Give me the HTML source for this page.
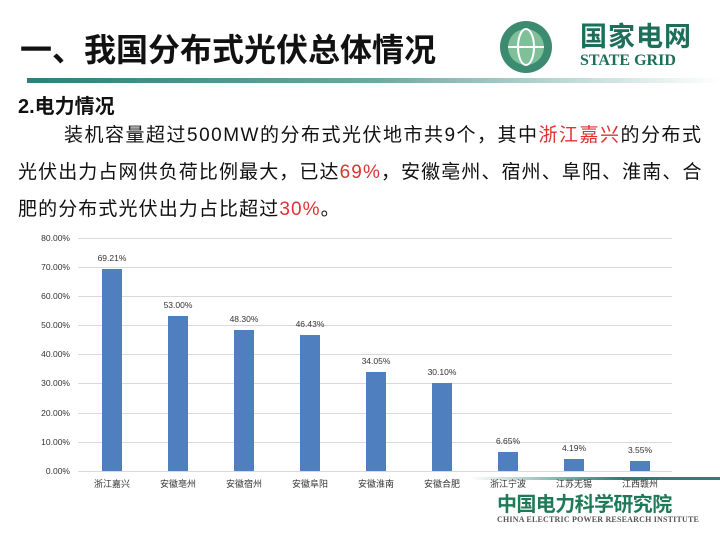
<!DOCTYPE html>
<html><head><meta charset="utf-8"><style>
body{margin:0;width:720px;height:540px;background:#fff;position:relative;overflow:hidden;font-family:"Liberation Sans","Noto Sans CJK SC",sans-serif;}
.a{position:absolute;white-space:nowrap;line-height:1}
.p{position:absolute;white-space:nowrap;font-size:19px;line-height:1;color:#111}
</style></head><body>
<div class="a" style="left:20px;top:34px;font-size:32px;font-weight:bold;color:#111">一、我国分布式光伏总体情况</div>
<div class="a" style="left:27px;top:78px;width:693px;height:5px;background:linear-gradient(to right,#2f7f78,#6aa9a0 50%,#fff)"></div>
<svg class="a" style="left:497px;top:18px" width="58" height="58"><circle cx="29" cy="29" r="26" fill="#3c8a6f"/><circle cx="29" cy="29" r="18" fill="#7fbf9a"/><ellipse cx="29" cy="29" rx="8" ry="18" fill="none" stroke="#fff" stroke-width="2"/><line x1="11" y1="29" x2="47" y2="29" stroke="#fff" stroke-width="2"/></svg>
<div class="a" style="left:580px;top:24px;font-size:27px;font-weight:bold;color:#1d6f5a;letter-spacing:1px">国家电网</div>
<div class="a" style="left:580px;top:53px;font-size:16px;font-weight:bold;color:#1d6f5a;font-family:'Liberation Serif',serif">STATE GRID</div>
<div class="a" style="left:18px;top:97px;font-size:20px;font-weight:bold;color:#111">2.电力情况</div>
<div class="p" style="left:64px;top:126px;letter-spacing:1.5px">装机容量超过500MW的分布式光伏地市共9个，其中<span style="color:#e03030">浙江嘉兴</span>的分布式</div>
<div class="p" style="left:18px;top:163px;letter-spacing:1.1px">光伏出力占网供负荷比例最大，已达<span style="color:#e03030">69%</span>，安徽亳州、宿州、阜阳、淮南、合</div>
<div class="p" style="left:18px;top:200px;letter-spacing:1.1px">肥的分布式光伏出力占比超过<span style="color:#e03030">30%</span>。</div>
<div class="a" style="left:470px;top:477px;width:250px;height:3px;background:linear-gradient(to right,#fff,#2f7f78 60%)"></div>
<svg class="a" style="left:0;top:0" width="720" height="540" font-family="Liberation Sans,Noto Sans CJK SC,sans-serif" font-size="9" fill="#333">
<g stroke="#d9d9d9" stroke-width="1">
<line x1="78" x2="672" y1="238.5" y2="238.5"/><line x1="78" x2="672" y1="267.5" y2="267.5"/><line x1="78" x2="672" y1="296.5" y2="296.5"/><line x1="78" x2="672" y1="325.5" y2="325.5"/><line x1="78" x2="672" y1="354.5" y2="354.5"/><line x1="78" x2="672" y1="383.5" y2="383.5"/><line x1="78" x2="672" y1="413.5" y2="413.5"/><line x1="78" x2="672" y1="442.5" y2="442.5"/><line x1="78" x2="672" y1="471.5" y2="471.5"/>
</g>
<g text-anchor="end" font-size="8.5"><text x="70" y="241">80.00%</text><text x="70" y="270">70.00%</text><text x="70" y="299">60.00%</text><text x="70" y="328">50.00%</text><text x="70" y="357">40.00%</text><text x="70" y="386">30.00%</text><text x="70" y="416">20.00%</text><text x="70" y="445">10.00%</text><text x="70" y="474">0.00%</text></g>
<g fill="#4f7fbe">
<rect x="102" y="269" width="20" height="202"/><rect x="168" y="316" width="20" height="155"/><rect x="234" y="330" width="20" height="141"/><rect x="300" y="335" width="20" height="136"/><rect x="366" y="372" width="20" height="99"/><rect x="432" y="383" width="20" height="88"/><rect x="498" y="452" width="20" height="19"/><rect x="564" y="459" width="20" height="12"/><rect x="630" y="461" width="20" height="10"/>
</g>
<g text-anchor="middle" font-size="8.5"><text x="112" y="261">69.21%</text><text x="178" y="308">53.00%</text><text x="244" y="322">48.30%</text><text x="310" y="327">46.43%</text><text x="376" y="364">34.05%</text><text x="442" y="375">30.10%</text><text x="508" y="444">6.65%</text><text x="574" y="451">4.19%</text><text x="640" y="453">3.55%</text></g>
<g text-anchor="middle" font-size="9"><text x="112" y="487">浙江嘉兴</text><text x="178" y="487">安徽亳州</text><text x="244" y="487">安徽宿州</text><text x="310" y="487">安徽阜阳</text><text x="376" y="487">安徽淮南</text><text x="442" y="487">安徽合肥</text><text x="508" y="487">浙江宁波</text><text x="574" y="487">江苏无锡</text><text x="640" y="487">江西赣州</text></g>
</svg>
<div class="a" style="left:497px;top:495px;font-size:20px;font-weight:bold;color:#1f7a5a;letter-spacing:-0.6px">中国电力科学研究院</div>
<div class="a" style="left:497px;top:516px;font-size:8px;font-weight:bold;color:#555;font-family:'Liberation Serif',serif;letter-spacing:0.2px">CHINA ELECTRIC POWER RESEARCH INSTITUTE</div>
</body></html>
